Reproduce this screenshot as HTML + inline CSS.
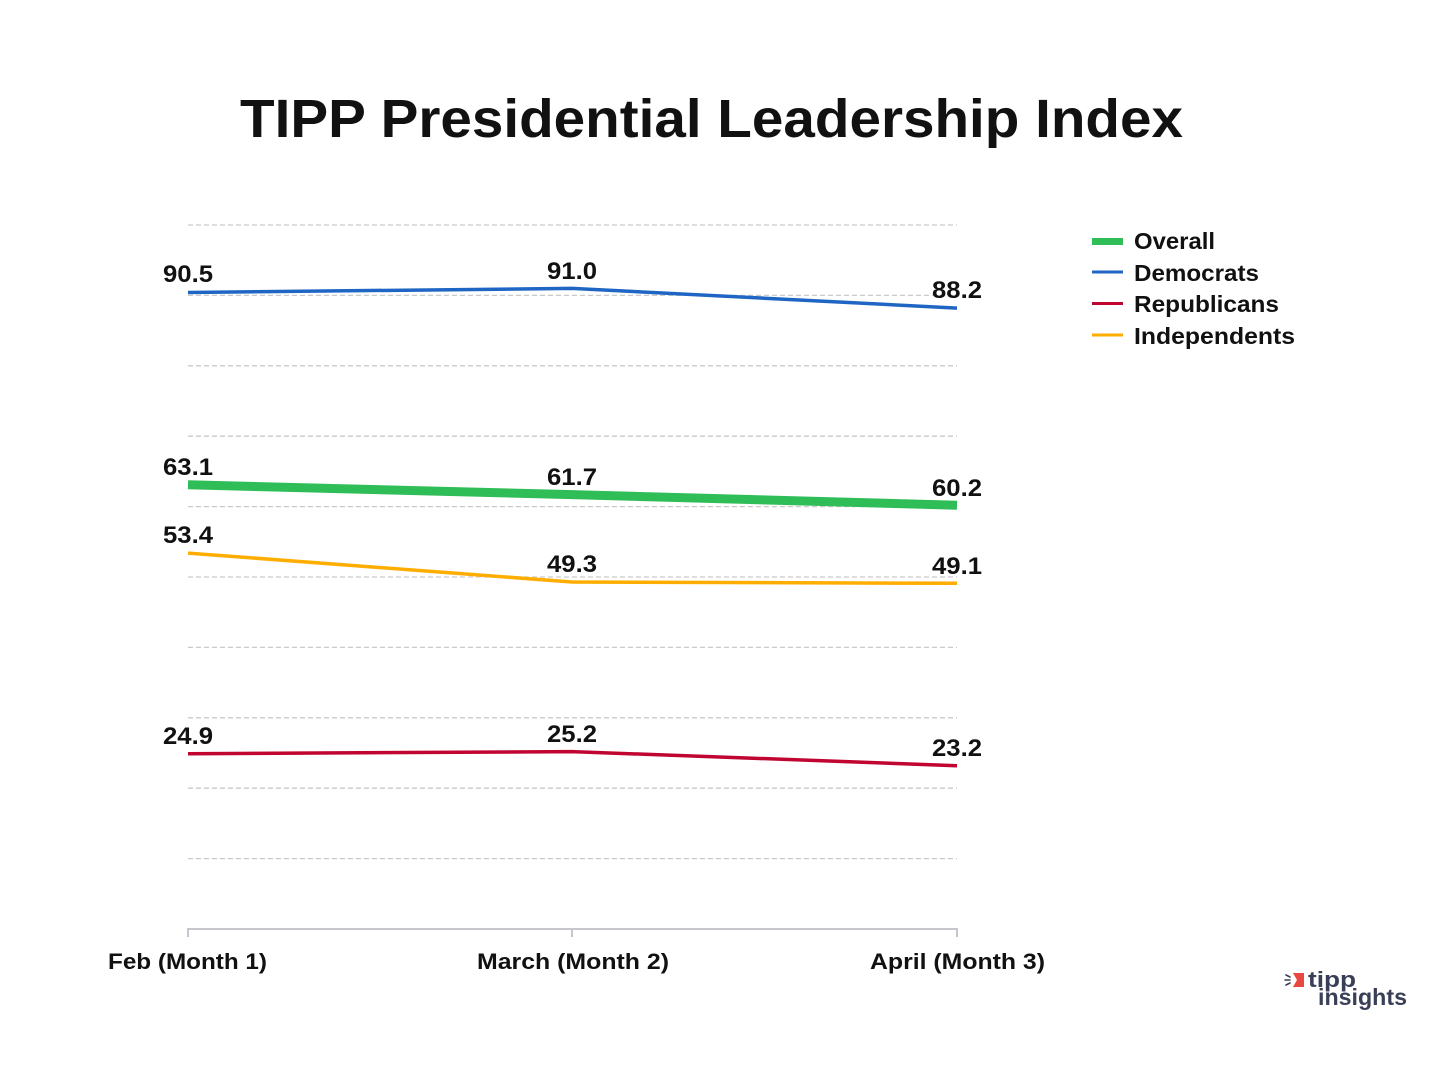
<!DOCTYPE html>
<html><head><meta charset="utf-8"><style>
html,body{margin:0;padding:0;background:#fff;}
svg{display:block;}
text{font-family:"Liberation Sans","DejaVu Sans",sans-serif;font-weight:bold;fill:#111;}
</style></head><body>
<svg width="1440" height="1080" viewBox="0 0 1440 1080" xmlns="http://www.w3.org/2000/svg">
<rect width="1440" height="1080" fill="#fff"/>
<text x="240" y="137" font-size="54" textLength="943" lengthAdjust="spacingAndGlyphs">TIPP Presidential Leadership Index</text>
<g stroke="#c9c9c9" stroke-width="1.3" stroke-dasharray="5,3" fill="none">
<line x1="188" y1="225" x2="957" y2="225"/>
<line x1="188" y1="295.4" x2="957" y2="295.4"/>
<line x1="188" y1="365.8" x2="957" y2="365.8"/>
<line x1="188" y1="436.2" x2="957" y2="436.2"/>
<line x1="188" y1="506.6" x2="957" y2="506.6"/>
<line x1="188" y1="577" x2="957" y2="577"/>
<line x1="188" y1="647.4" x2="957" y2="647.4"/>
<line x1="188" y1="717.8" x2="957" y2="717.8"/>
<line x1="188" y1="788.2" x2="957" y2="788.2"/>
<line x1="188" y1="858.6" x2="957" y2="858.6"/>
</g>
<g stroke="#c6c6cc" stroke-width="2" fill="none">
<line x1="187" y1="929" x2="958" y2="929"/>
<line x1="188" y1="929" x2="188" y2="937"/>
<line x1="572" y1="929" x2="572" y2="937"/>
<line x1="957" y1="929" x2="957" y2="937"/>
</g>
<polyline points="188,292.5 572,288.4 957,308.1" fill="none" stroke="#1f66c4" stroke-width="3.5"/>
<polyline points="188,484.8 572,494.6 957,505.2" fill="none" stroke="#2fbd57" stroke-width="9"/>
<polyline points="188,553.1 572,582 957,583.3" fill="none" stroke="#ffad00" stroke-width="3.5"/>
<polyline points="188,753.7 572,751.6 957,765.7" fill="none" stroke="#c00530" stroke-width="3.5"/>
<g font-size="24">
<text x="163" y="282" textLength="50" lengthAdjust="spacingAndGlyphs">90.5</text>
<text x="547" y="279" textLength="50" lengthAdjust="spacingAndGlyphs">91.0</text>
<text x="932" y="298" textLength="50" lengthAdjust="spacingAndGlyphs">88.2</text>
<text x="163" y="475" textLength="50" lengthAdjust="spacingAndGlyphs">63.1</text>
<text x="547" y="485" textLength="50" lengthAdjust="spacingAndGlyphs">61.7</text>
<text x="932" y="496" textLength="50" lengthAdjust="spacingAndGlyphs">60.2</text>
<text x="163" y="543" textLength="50" lengthAdjust="spacingAndGlyphs">53.4</text>
<text x="547" y="572" textLength="50" lengthAdjust="spacingAndGlyphs">49.3</text>
<text x="932" y="574" textLength="50" lengthAdjust="spacingAndGlyphs">49.1</text>
<text x="163" y="744" textLength="50" lengthAdjust="spacingAndGlyphs">24.9</text>
<text x="547" y="742" textLength="50" lengthAdjust="spacingAndGlyphs">25.2</text>
<text x="932" y="756" textLength="50" lengthAdjust="spacingAndGlyphs">23.2</text>
</g>
<g font-size="22">
<text x="108" y="969" textLength="159" lengthAdjust="spacingAndGlyphs">Feb (Month 1)</text>
<text x="477" y="969" textLength="192" lengthAdjust="spacingAndGlyphs">March (Month 2)</text>
<text x="870" y="969" textLength="175" lengthAdjust="spacingAndGlyphs">April (Month 3)</text>
</g>
<rect x="1092" y="238" width="31" height="7" fill="#2fbd57"/>
<rect x="1092" y="270.5" width="31" height="3" fill="#1f66c4"/>
<rect x="1092" y="302" width="31" height="3" fill="#c00530"/>
<rect x="1092" y="333.5" width="31" height="3" fill="#ffad00"/>
<g font-size="23">
<text x="1134" y="249" textLength="81" lengthAdjust="spacingAndGlyphs">Overall</text>
<text x="1134" y="281" textLength="125" lengthAdjust="spacingAndGlyphs">Democrats</text>
<text x="1134" y="312" textLength="145" lengthAdjust="spacingAndGlyphs">Republicans</text>
<text x="1134" y="344" textLength="161" lengthAdjust="spacingAndGlyphs">Independents</text>
</g>
<g>
<g stroke="#3a3f58" stroke-width="1.6" stroke-linecap="round">
<line x1="1286" y1="975" x2="1290" y2="977"/>
<line x1="1285" y1="980" x2="1290" y2="980"/>
<line x1="1286" y1="985" x2="1290" y2="983"/>
</g>
<polygon points="1293,973 1304,973 1304,987 1293,987 1297,980" fill="#e8483f"/>
<text x="1308" y="987" font-size="22" style="fill:#3a3f58" textLength="48" lengthAdjust="spacingAndGlyphs">tipp</text>
<text x="1318" y="1005" font-size="23" style="fill:#3a3f58" textLength="89" lengthAdjust="spacingAndGlyphs">insights</text>
</g>
</svg>
</body></html>
